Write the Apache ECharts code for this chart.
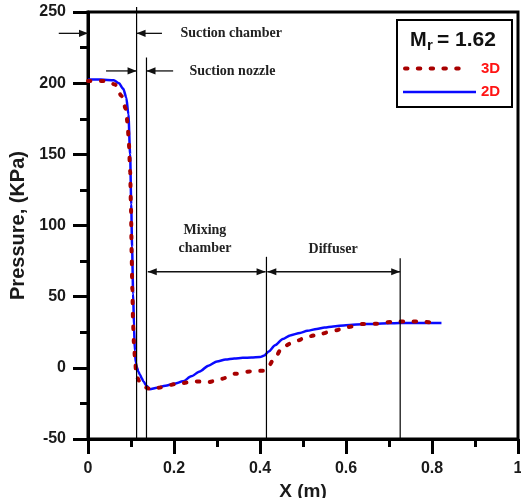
<!DOCTYPE html>
<html><head><meta charset="utf-8">
<script src="https://cdn.jsdelivr.net/npm/echarts@6/dist/echarts.min.js"></script>
<style>html,body{margin:0;padding:0;background:#fff}#c{width:521px;height:498px}</style>
</head><body><div id="c"></div>
<script>
// 2D simulation
const x2D = [0, 0.03, 0.06, 0.072, 0.082, 0.089, 0.094, 0.098, 0.1005, 0.1025, 0.105, 0.107, 0.109, 0.111, 0.113, 0.117, 0.121, 0.125, 0.129, 0.136, 0.144, 0.16, 0.18, 0.2, 0.221, 0.24, 0.26, 0.28, 0.3, 0.32, 0.34, 0.36, 0.38, 0.4, 0.41, 0.42, 0.435, 0.453, 0.47, 0.493, 0.51, 0.532, 0.55, 0.57, 0.6, 0.648, 0.7, 0.725, 0.78, 0.822];
const p2D = [202.5, 202.5, 202, 200, 196, 190, 178, 150, 115, 85, 52, 29, 12, 4, 1, -2.5, -4.9, -7.3, -9.6, -12.5, -15, -14, -12.6, -11.2, -9.5, -6, -2.5, 1.5, 4.5, 5.8, 6.6, 7, 7.3, 7.6, 8.6, 11.5, 15.8, 20.2, 22.8, 24.5, 26, 27.3, 28.3, 29.1, 30, 30.8, 31.3, 31.5, 31.5, 31.5];
// 3D simulation
const x3D = [0, 0.03, 0.045, 0.063, 0.078, 0.088, 0.092, 0.095, 0.098, 0.1, 0.1015, 0.103, 0.105, 0.107, 0.109, 0.112, 0.116, 0.121, 0.13, 0.14, 0.148, 0.165, 0.183, 0.2, 0.218, 0.249, 0.28, 0.311, 0.342, 0.377, 0.408, 0.42, 0.431, 0.454, 0.481, 0.512, 0.543, 0.57, 0.605, 0.64, 0.671, 0.706, 0.737, 0.768, 0.8];
const p3D = [201.5, 201.5, 201.5, 199, 191, 182, 172, 158, 138, 112, 80, 55, 30, 16, 8, -3.7, -7.5, -10.7, -13, -14.5, -15.4, -14, -12.6, -11.6, -10.7, -9.5, -10, -7.7, -4.2, -2.5, -2, 1, 5.7, 15, 18.5, 22, 24, 26, 28.7, 30.8, 31, 32.2, 32.6, 32.6, 31.9];
// region boundaries (m) and annotation texts
const boundaries = [0.113, 0.136, 0.415, 0.726];
const boundaryTops = [253.5, 218, 78, 77];
const regionNames = ['Suction chamber', 'Suction nozzle', 'Mixing\nchamber', 'Diffuser'];
const seriesNames = ['3D', '2D'];
const machLabel = ['M', 'r', '= 1.62'];

const chart = echarts.init(document.getElementById('c'), null, {renderer: 'canvas'});
const pair = (xs, ys) => xs.map((x, i) => [x, ys[i]]);
const labelFont = {fontFamily: 'Liberation Sans', fontWeight: 'bold', fontSize: 16, color: '#1a1a1a'};
const nameFont = {fontFamily: 'Liberation Sans', fontWeight: 'bold', fontSize: 19, color: '#1a1a1a'};
const axisCommon = {
  axisLine: {show: true, onZero: false, lineStyle: {color: '#000', width: 3}},
  axisTick: {show: true, inside: false, length: 15, lineStyle: {color: '#000', width: 3}},
  minorTick: {show: true, splitNumber: 2, length: 8, lineStyle: {color: '#000', width: 3}},
  splitLine: {show: false}, minorSplitLine: {show: false}
};
chart.setOption({
  animation: false,
  grid: {left: 88, top: 12, right: 3, bottom: 59, show: true, borderColor: '#000', borderWidth: 3,
    outerBoundsMode: 'none', containLabel: false},
  xAxis: Object.assign({type: 'value', min: 0, max: 1, interval: 0.2, name: 'X (m)', nameLocation: 'middle', nameGap: 40,
    nameTextStyle: nameFont, axisLabel: Object.assign({margin: 22}, labelFont)}, axisCommon),
  yAxis: Object.assign({type: 'value', min: -50, max: 250, interval: 50, name: 'Pressure, (KPa)', nameLocation: 'middle', nameGap: 55,
    nameTextStyle: Object.assign({}, nameFont, {fontSize: 20}), axisLabel: Object.assign({margin: 22}, labelFont)}, axisCommon),
  series: [
    {name: seriesNames[1], type: 'line', data: pair(x2D, p2D), showSymbol: false, smooth: 0.25, smoothMonotone: 'x',
      lineStyle: {color: '#0a0aff', width: 2.5}, z: 2},
    {name: seriesNames[0], type: 'line', data: pair(x3D, p3D), showSymbol: false, smooth: 0.25, smoothMonotone: 'x',
      lineStyle: {color: '#a80000', width: 4, type: [2.5, 10.5], cap: 'round'}, z: 3}
  ]
});

const px = (x, y) => chart.convertToPixel({gridIndex: 0}, [x, y]);
const g = [];
const ink = '#111';
boundaries.forEach((b, i) => {
  const a = px(b, boundaryTops[i]), c = px(b, -50);
  g.push({type: 'line', shape: {x1: a[0], y1: a[1], x2: c[0], y2: c[1]}, style: {stroke: '#000', lineWidth: 1.2}, z: 10});
});
function head(x, y, dir) {
  const L = 9, W = 3.6;
  g.push({type: 'polygon', shape: {points: [[x, y], [x - dir * L, y - W], [x - dir * L, y + W]]}, style: {fill: ink}, z: 11});
}
function arrow(xa, xb, yv, h1, h2) {
  const a = px(xa, yv), b = px(xb, yv);
  g.push({type: 'line', shape: {x1: a[0], y1: a[1], x2: b[0], y2: b[1]}, style: {stroke: ink, lineWidth: 1.3}, z: 11});
  const dir = b[0] > a[0] ? 1 : -1;
  if (h2) head(b[0], b[1], dir);
  if (h1) head(a[0], a[1], -dir);
}
// suction chamber
arrow(-0.068, 0, 235, false, true);
arrow(0.172, boundaries[0], 235, false, true);
// suction nozzle
arrow(0.042, boundaries[0], 208.6, false, true);
arrow(0.198, boundaries[1], 208.6, false, true);
// mixing chamber & diffuser
arrow(boundaries[1] + 0.003, boundaries[2] - 0.002, 67.5, true, true);
arrow(boundaries[2] + 0.002, boundaries[3], 67.5, true, true);

const serif = {fontFamily: 'Liberation Serif', fontWeight: 'bold', fontSize: 14, fill: '#222'};
function txt(text, xv, yv, align, extra) {
  const p = px(xv, yv);
  g.push({type: 'text', x: p[0], y: p[1], style: Object.assign({text: text, textAlign: align, textVerticalAlign: 'middle'}, serif, extra || {}), z: 12});
}
txt(regionNames[0], 0.215, 235, 'left');
txt(regionNames[1], 0.236, 208.6, 'left');
txt(regionNames[2], 0.272, 90, 'center', {lineHeight: 18});
txt(regionNames[3], 0.57, 83, 'center');

// legend box
g.push({type: 'rect', shape: {x: 397, y: 20, width: 115, height: 87}, style: {fill: '#fff', stroke: '#000', lineWidth: 2}, z: 20});
const sans = {fontFamily: 'Liberation Sans', fontWeight: 'bold'};
g.push({type: 'text', x: 410, y: 40, style: Object.assign({text: machLabel[0], fontSize: 20, fill: '#111', textVerticalAlign: 'middle'}, sans), z: 21});
g.push({type: 'text', x: 427, y: 46, style: Object.assign({text: machLabel[1], fontSize: 15, fill: '#111', textVerticalAlign: 'middle'}, sans), z: 21});
g.push({type: 'text', x: 437, y: 40, style: Object.assign({text: machLabel[2], fontSize: 21, fill: '#111', textVerticalAlign: 'middle'}, sans), z: 21});
g.push({type: 'line', shape: {x1: 405, y1: 68.5, x2: 467, y2: 68.5}, style: {stroke: '#a80000', lineWidth: 4, lineDash: [2.5, 10.3], lineCap: 'round'}, z: 21});
g.push({type: 'line', shape: {x1: 403, y1: 92, x2: 476, y2: 92}, style: {stroke: '#0a0aff', lineWidth: 2.5}, z: 21});
g.push({type: 'text', x: 481, y: 69, style: Object.assign({text: seriesNames[0], fontSize: 15, fill: '#ff1414', textVerticalAlign: 'middle'}, sans), z: 21});
g.push({type: 'text', x: 481, y: 92, style: Object.assign({text: seriesNames[1], fontSize: 15, fill: '#ff1414', textVerticalAlign: 'middle'}, sans), z: 21});

chart.setOption({graphic: g});
</script></body></html>
